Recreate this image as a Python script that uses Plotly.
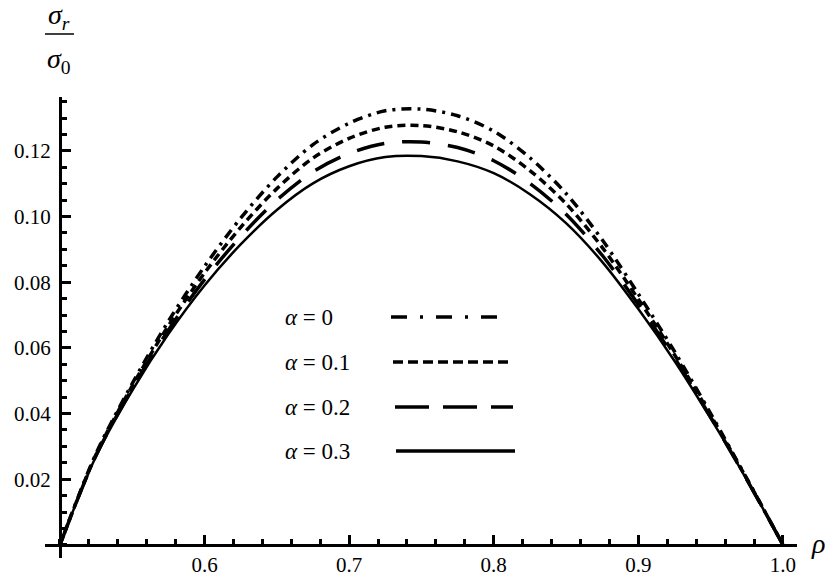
import plotly.graph_objects as go

# ---- data ----
rho = [0.5, 0.525, 0.55, 0.575, 0.6, 0.625, 0.65, 0.675, 0.7, 0.725, 0.75,
       0.775, 0.8, 0.825, 0.85, 0.875, 0.9, 0.925, 0.95, 0.975, 1.0]
s_a0 = [0, 0.0278, 0.0491, 0.0681, 0.0848, 0.0995, 0.1120, 0.1219, 0.1284, 0.1322, 0.1327,
        0.1307, 0.1260, 0.1179, 0.1070, 0.0929, 0.0764, 0.0589, 0.0400, 0.0202, 0]
s_a1 = [0, 0.0275, 0.0484, 0.0667, 0.0828, 0.0967, 0.1085, 0.1178, 0.1238, 0.1272, 0.1277,
        0.1258, 0.1215, 0.1140, 0.1039, 0.0906, 0.0748, 0.0579, 0.0395, 0.0201, 0]
s_a2 = [0, 0.0272, 0.0476, 0.0654, 0.0808, 0.0939, 0.1050, 0.1136, 0.1192, 0.1223, 0.1227,
        0.1210, 0.1170, 0.1101, 0.1007, 0.0882, 0.0732, 0.0569, 0.0389, 0.0199, 0]
s_a3 = [0, 0.0270, 0.0470, 0.0642, 0.0790, 0.0915, 0.1020, 0.1101, 0.1153, 0.1181, 0.1184,
        0.1168, 0.1132, 0.1068, 0.0980, 0.0862, 0.0718, 0.0560, 0.0385, 0.0198, 0]
labels = ["<i>α</i> = 0", "<i>α</i> = 0.1", "<i>α</i> = 0.2", "<i>α</i> = 0.3"]
x_ticks = [0.6, 0.7, 0.8, 0.9, 1.0]
x_ticktext = ["0.6", "0.7", "0.8", "0.9", "1.0"]
y_ticks = [0.02, 0.04, 0.06, 0.08, 0.10, 0.12]
y_ticktext = ["0.02", "0.04", "0.06", "0.08", "0.10", "0.12"]

# ---- styles ----
series = [s_a0, s_a1, s_a2, s_a3]
dashes = ["10px,6px,3px,6px", "8px,5px", "28px,18px", "solid"]
widths = [3.5, 3.5, 3.5, 2.5]
leg_dashes = ["16px,13px,3px,13px", "10px,5px", "34px,14px", "solid"]
leg_x = [(391, 507), (393, 511), (395, 513), (396, 515)]

W, H = 829, 578
L, R, T, B = 45, 32, 97, 20
pw, ph = W - L - R, H - T - B
xr = [0.4897, 1.0097]
yr = [-0.004, 0.1364]


def px2x(px):
    return (px - L) / pw


def py2y(py):
    return (H - B - py) / ph


fig = go.Figure()
for ys, d, w, name in zip(series, dashes, widths, labels):
    fig.add_trace(go.Scatter(x=rho, y=ys, mode="lines", name=name,
                             line=dict(color="black", width=w, dash=d,
                                       shape="spline", smoothing=0.9),
                             showlegend=False, hoverinfo="skip"))

FAM = "Liberation Serif, Times New Roman, DejaVu Serif, serif"
font = dict(family=FAM, color="black")
fig.update_layout(
    width=W, height=H,
    margin=dict(l=L, r=R, t=T, b=B, autoexpand=False),
    font=dict(family=FAM, color="black", size=21),
    paper_bgcolor="white", plot_bgcolor="white",
    xaxis=dict(range=xr, anchor="free", automargin=False,
               position=(0 - yr[0]) / (yr[1] - yr[0]),
               showgrid=False, zeroline=False, showline=True,
               linecolor="black", linewidth=3,
               tickmode="array", tickvals=x_ticks, ticktext=x_ticktext,
               ticks="inside", ticklen=9, tickwidth=2.5, tickcolor="black",
               tickfont=dict(size=21, **font),
               minor=dict(tickmode="linear", tick0=0.5, dtick=0.02,
                          ticks="inside", ticklen=5, tickwidth=2.5,
                          tickcolor="black", showgrid=False)),
    yaxis=dict(range=yr, anchor="free", automargin=False,
               position=(0.5 - xr[0]) / (xr[1] - xr[0]),
               showgrid=False, zeroline=False, showline=True,
               linecolor="black", linewidth=3,
               tickmode="array", tickvals=y_ticks, ticktext=y_ticktext,
               ticks="inside", ticklen=9, tickwidth=2.5, tickcolor="black",
               tickfont=dict(size=21, **font), ticklabelstandoff=4,
               minor=dict(tickmode="linear", tick0=0, dtick=0.005,
                          ticks="inside", ticklen=5, tickwidth=2.5,
                          tickcolor="black", showgrid=False)),
)

ann = []
# axis titles
ann.append(dict(text="<i>σ</i><sub><i>r</i></sub>", x=px2x(59), y=py2y(17),
                xref="paper", yref="paper", xanchor="center", yanchor="middle",
                showarrow=False, font=dict(size=28, **font)))
ann.append(dict(text="<i>σ</i><sub>0</sub>", x=px2x(59), y=py2y(60),
                xref="paper", yref="paper", xanchor="center", yanchor="middle",
                showarrow=False, font=dict(size=28, **font)))
ann.append(dict(text="<i>ρ</i>", x=px2x(818), y=py2y(543),
                xref="paper", yref="paper", xanchor="center", yanchor="middle",
                showarrow=False, font=dict(size=28, **font)))
shapes = [dict(type="line", xref="paper", yref="paper",
               x0=px2x(45), x1=px2x(74), y0=py2y(34), y1=py2y(34),
               line=dict(color="black", width=1.5))]

# legend (text + key lines)
leg_y = [317, 362, 407, 451]
for lab, yy, d, (lx0, lx1) in zip(labels, leg_y, leg_dashes, leg_x):
    ann.append(dict(text=lab, x=px2x(283), y=py2y(yy), xref="paper", yref="paper",
                    xanchor="left", yanchor="middle", showarrow=False,
                    font=dict(size=23, **font)))
    shapes.append(dict(type="line", xref="paper", yref="paper",
                       x0=px2x(lx0), x1=px2x(lx1), y0=py2y(yy), y1=py2y(yy),
                       line=dict(color="black", width=3.5, dash=d)))

fig.update_layout(annotations=ann, shapes=shapes)
fig.write_html("out.html", config={"displayModeBar": False},
               post_script="document.body.style.margin='0';")
